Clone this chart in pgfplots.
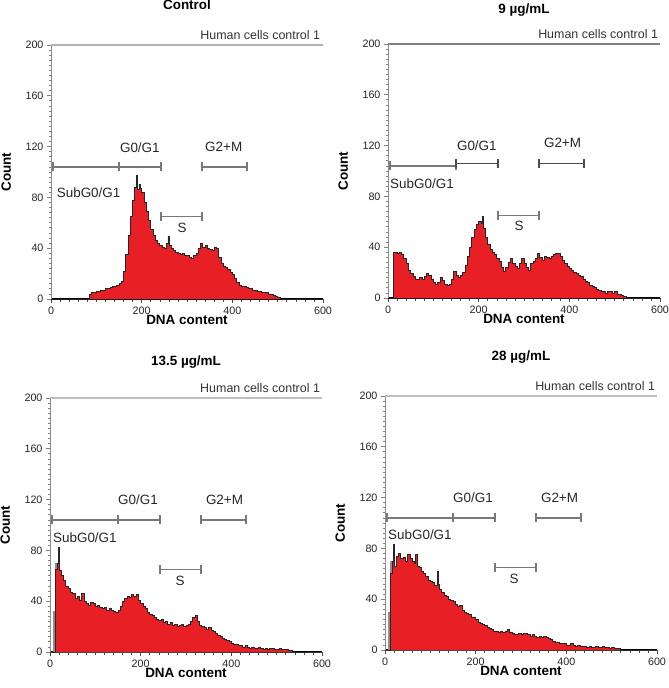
\documentclass[border=0pt]{standalone}
\usepackage{fontspec}
\setmainfont{Liberation Sans}
\usepackage{pgfplots}
\pgfplotsset{compat=1.18}
\definecolor{histred}{RGB}{232,32,38}
\definecolor{gatecol}{RGB}{120,120,120}
\tikzset{
  lab/.style={font=\fontsize{13.5}{15}\selectfont, text=black!85},
  human/.style={anchor=south east, inner sep=0pt, font=\fontsize{12.5}{14}\selectfont, text=black!80},
}
\pgfplotsset{
  flowax/.style={
    scale only axis, width=272bp, height=254bp,
    xmin=0, xmax=600, ymin=0, ymax=200, clip=false,
    axis x line*=bottom, axis y line*=left,
    xtick={0,200,400,600}, ytick={0,40,80,120,160,200},
    minor x tick num=9, minor y tick num=9,
    tick align=outside, major tick length=4bp, minor tick length=2.5bp,
    x axis line style={black, line width=1.3pt},
    y axis line style={black!45, line width=0.9pt},
    xtick style={black!70, line width=0.6pt},
    ytick style={black!50, line width=0.8pt},
    /pgf/number format/assume math mode=true,
    ticklabel style={font=\fontsize{10.8}{12}\selectfont, text=black!85},
    xlabel={DNA content}, ylabel={Count},
    xlabel style={font=\bfseries\fontsize{13.5}{15}\selectfont, at={(axis description cs:0.5,-0.083)}, anchor=center},
    ylabel style={font=\bfseries\fontsize{13.5}{15}\selectfont, at={(axis description cs:-0.165,0.5)}, anchor=center},
    every axis title/.style={font=\bfseries\fontsize{13.5}{15}\selectfont, at={(axis description cs:0.5,1)}, anchor=center},
  },
  hist/.style={const plot, fill=histred, draw=black!85, line width=0.8pt},
  gate/.style={gatecol, line width=1.2pt, mark=|, mark size=4.5bp, mark options={line width=2pt}},
}
\begin{document}
\begin{tikzpicture}
\useasboundingbox (0,0) rectangle (669bp,-688bp);
% ---------------- Control
\begin{axis}[flowax, at={(51bp,-299bp)}, anchor=south west, title={Control}, title style={yshift=40bp}]
\addplot[black!30, line width=2.4pt, forget plot] coordinates {(0,200) (600,200)};
\addplot[hist] coordinates {
(0,0) (85,4) (90,5) (95,5) (100,6) (105,6) (110,7) (115,7) (120,8) (125,8) (130,9) (135,10) (140,10) (145,11)
(150,12) (155,14) (160,22) (165,35) (170,50) (175,65) (180,78) (185,88) (188,97) (191,86) (194,90) (197,87)
(200,84) (205,76) (210,69) (215,62) (220,55) (225,50) (230,46) (235,44) (240,42) (245,41) (250,40) (255,44)
(258,49) (261,42) (265,40) (270,38) (275,37) (280,36) (285,35) (290,36) (295,34) (300,34) (305,33) (310,32)
(315,34) (320,36) (325,40) (330,44) (335,41) (340,42) (345,40) (350,39) (355,38) (360,41) (365,40) (370,33)
(375,28) (380,26) (385,25) (390,23) (395,21) (400,19) (405,16) (410,13) (415,11) (420,10) (425,10) (430,9)
(435,8) (440,8) (445,7) (450,7) (455,6) (460,6) (465,5) (470,5) (475,5) (480,4) (485,4) (490,3) (495,2)
(500,1) (505,0) (600,0)} \closedcycle;
\addplot[gate] coordinates {(4,104) (149,104)};
\addplot[gate] coordinates {(149,104) (243,104)};
\addplot[gate] coordinates {(333,104) (432,104)};
\addplot[gate] coordinates {(243,65) (333,65)};
\node[lab] at (axis cs:83,84) {SubG0/G1};
\node[lab] at (axis cs:196,119) {G0/G1};
\node[lab] at (axis cs:381,120) {G2+M};
\node[lab] at (axis cs:289,56) {S};
\node[human] at (axis cs:594,204) {Human cells control 1};
\end{axis}
% ---------------- 9 ug/mL
\begin{axis}[flowax, at={(388bp,-298bp)}, anchor=south west, title={9 µg/mL}, title style={yshift=34bp}]
\addplot[black!50, line width=1.1pt, forget plot] coordinates {(0,200) (600,200)};
\addplot[hist] coordinates {
(0,0) (13,36) (20,35) (25,36) (30,34) (35,31) (40,27) (45,22) (50,19) (55,17) (60,15) (65,15) (70,16) (75,15)
(80,17) (85,19) (90,18) (95,15) (100,12) (105,11) (110,12) (115,16) (120,14) (125,11) (130,10) (135,11) (140,15)
(145,21) (150,18) (155,16) (160,18) (165,20) (170,26) (175,33) (180,40) (185,48) (190,54) (195,58) (200,60)
(205,59) (208,64) (210,55) (215,48) (220,42) (225,38) (230,36) (235,34) (240,31) (245,29) (250,24) (255,21)
(260,24) (265,28) (270,31) (275,27) (280,25) (285,23) (290,27) (295,31) (300,27) (305,24) (310,22) (315,27)
(320,29) (325,31) (330,35) (335,32) (340,30) (345,33) (350,32) (355,31) (360,33) (365,34) (370,35) (375,35)
(380,33) (385,30) (390,27) (395,25) (400,23) (405,22) (410,20) (415,19) (420,18) (425,17) (430,15) (435,13)
(440,12) (445,10) (450,9) (455,8) (460,7) (465,6) (470,5) (475,5) (480,4) (485,5) (490,5) (495,4) (500,5)
(505,3) (510,3) (515,2) (520,1) (525,0) (600,0)} \closedcycle;
\addplot[gate] coordinates {(4,104) (149,104)};
\addplot[gate, black!70] coordinates {(149,106) (243,106)};
\addplot[gate, black!70] coordinates {(333,106) (432,106)};
\addplot[gate] coordinates {(243,65) (333,65)};
\node[lab] at (axis cs:75,90) {SubG0/G1};
\node[lab] at (axis cs:196,120) {G0/G1};
\node[lab] at (axis cs:385,122) {G2+M};
\node[lab] at (axis cs:289,57) {S};
\node[human] at (axis cs:596,204) {Human cells control 1};
\end{axis}
% ---------------- 13.5 ug/mL
\begin{axis}[flowax, at={(50bp,-652bp)}, anchor=south west, title={13.5 µg/mL}, title style={yshift=36bp}]
\addplot[black!25, line width=2.4pt, forget plot] coordinates {(0,200) (600,200)};
\addplot[const plot, fill=black!45, draw=black!45, forget plot] coordinates {(0,0) (8,32) (12,70) (15,0) (600,0)} \closedcycle;
\addplot[hist] coordinates {
(0,0) (13,65) (17,70) (19,82) (21,64) (25,60) (30,56) (35,52) (40,50) (45,47) (50,46) (55,42) (60,44) (65,41)
(70,46) (75,40) (80,38) (85,37) (90,39) (95,38) (100,36) (105,37) (110,35) (115,34) (120,35) (125,33) (130,34)
(135,33) (140,32) (145,31) (150,33) (155,36) (160,40) (165,42) (170,44) (175,43) (180,45) (185,44) (190,45)
(195,41) (200,38) (205,36) (210,34) (215,31) (220,30) (225,29) (230,27) (235,26) (240,25) (245,26) (250,23)
(255,24) (260,22) (265,23) (270,21) (275,22) (280,20) (285,21) (290,22) (295,20) (300,21) (305,22) (310,24)
(315,27) (320,29) (325,24) (330,21) (335,20) (340,19) (345,18) (350,19) (355,17) (360,16) (365,15) (370,13)
(375,12) (380,11) (385,10) (390,9) (395,8) (400,7) (405,6) (410,6) (415,5) (420,5) (425,4) (430,5) (435,4)
(440,3) (445,4) (450,3) (455,3) (460,4) (465,3) (470,2) (475,3) (480,2) (485,3) (490,3) (495,2) (500,2)
(505,3) (510,2) (515,2) (520,2) (525,1) (530,1) (535,0) (600,0)} \closedcycle;
\addplot[gate] coordinates {(4,104) (149,104)};
\addplot[gate] coordinates {(149,104) (243,104)};
\addplot[gate] coordinates {(333,104) (432,104)};
\addplot[gate] coordinates {(243,65) (333,65)};
\node[lab] at (axis cs:77,90) {SubG0/G1};
\node[lab] at (axis cs:194,120) {G0/G1};
\node[lab] at (axis cs:385,120) {G2+M};
\node[lab] at (axis cs:287,56) {S};
\node[human] at (axis cs:596,204) {Human cells control 1};
\end{axis}
% ---------------- 28 ug/mL
\begin{axis}[flowax, at={(385bp,-650bp)}, anchor=south west, title={28 µg/mL}, title style={yshift=39bp}]
\addplot[black!25, line width=2.4pt, forget plot] coordinates {(0,200) (600,200)};
\addplot[const plot, fill=black!45, draw=black!45, forget plot] coordinates {(0,0) (8,30) (12,70) (15,0) (600,0)} \closedcycle;
\addplot[hist] coordinates {
(0,0) (13,60) (17,70) (19,83) (21,66) (25,74) (30,76) (35,72) (40,73) (45,70) (50,75) (55,72) (60,70) (65,68)
(68,75) (71,66) (75,65) (80,62) (85,60) (90,58) (95,55) (100,54) (105,53) (110,51) (115,62) (118,52) (120,48)
(125,45) (130,43) (135,42) (140,40) (145,39) (150,38) (155,36) (160,34) (165,35) (170,31) (175,30) (180,29)
(185,28) (190,26) (195,26) (200,24) (205,22) (210,21) (215,20) (220,19) (225,18) (230,17) (235,16) (240,15)
(245,15) (250,14) (255,15) (260,14) (265,15) (270,16) (275,14) (280,13) (285,12) (290,12) (295,13) (300,12)
(305,13) (310,13) (315,12) (320,11) (325,12) (330,11) (335,10) (340,11) (345,10) (350,11) (355,10) (360,9)
(365,8) (370,7) (375,6) (380,6) (385,5) (390,5) (395,5) (400,4) (405,4) (410,5) (415,4) (420,3) (425,4)
(430,3) (435,3) (440,3) (445,2) (450,3) (455,2) (460,2) (465,3) (470,2) (475,2) (480,3) (485,2) (490,2)
(495,1) (500,2) (505,1) (510,1) (515,1) (520,0) (600,0)} \closedcycle;
\addplot[gate] coordinates {(4,104) (149,104)};
\addplot[gate] coordinates {(149,104) (243,104)};
\addplot[gate] coordinates {(333,104) (432,104)};
\addplot[gate] coordinates {(243,65) (333,65)};
\node[lab] at (axis cs:77,91) {SubG0/G1};
\node[lab] at (axis cs:194,120) {G0/G1};
\node[lab] at (axis cs:385,120) {G2+M};
\node[lab] at (axis cs:285,56) {S};
\node[human] at (axis cs:596,204) {Human cells control 1};
\end{axis}
\end{tikzpicture}
\end{document}
